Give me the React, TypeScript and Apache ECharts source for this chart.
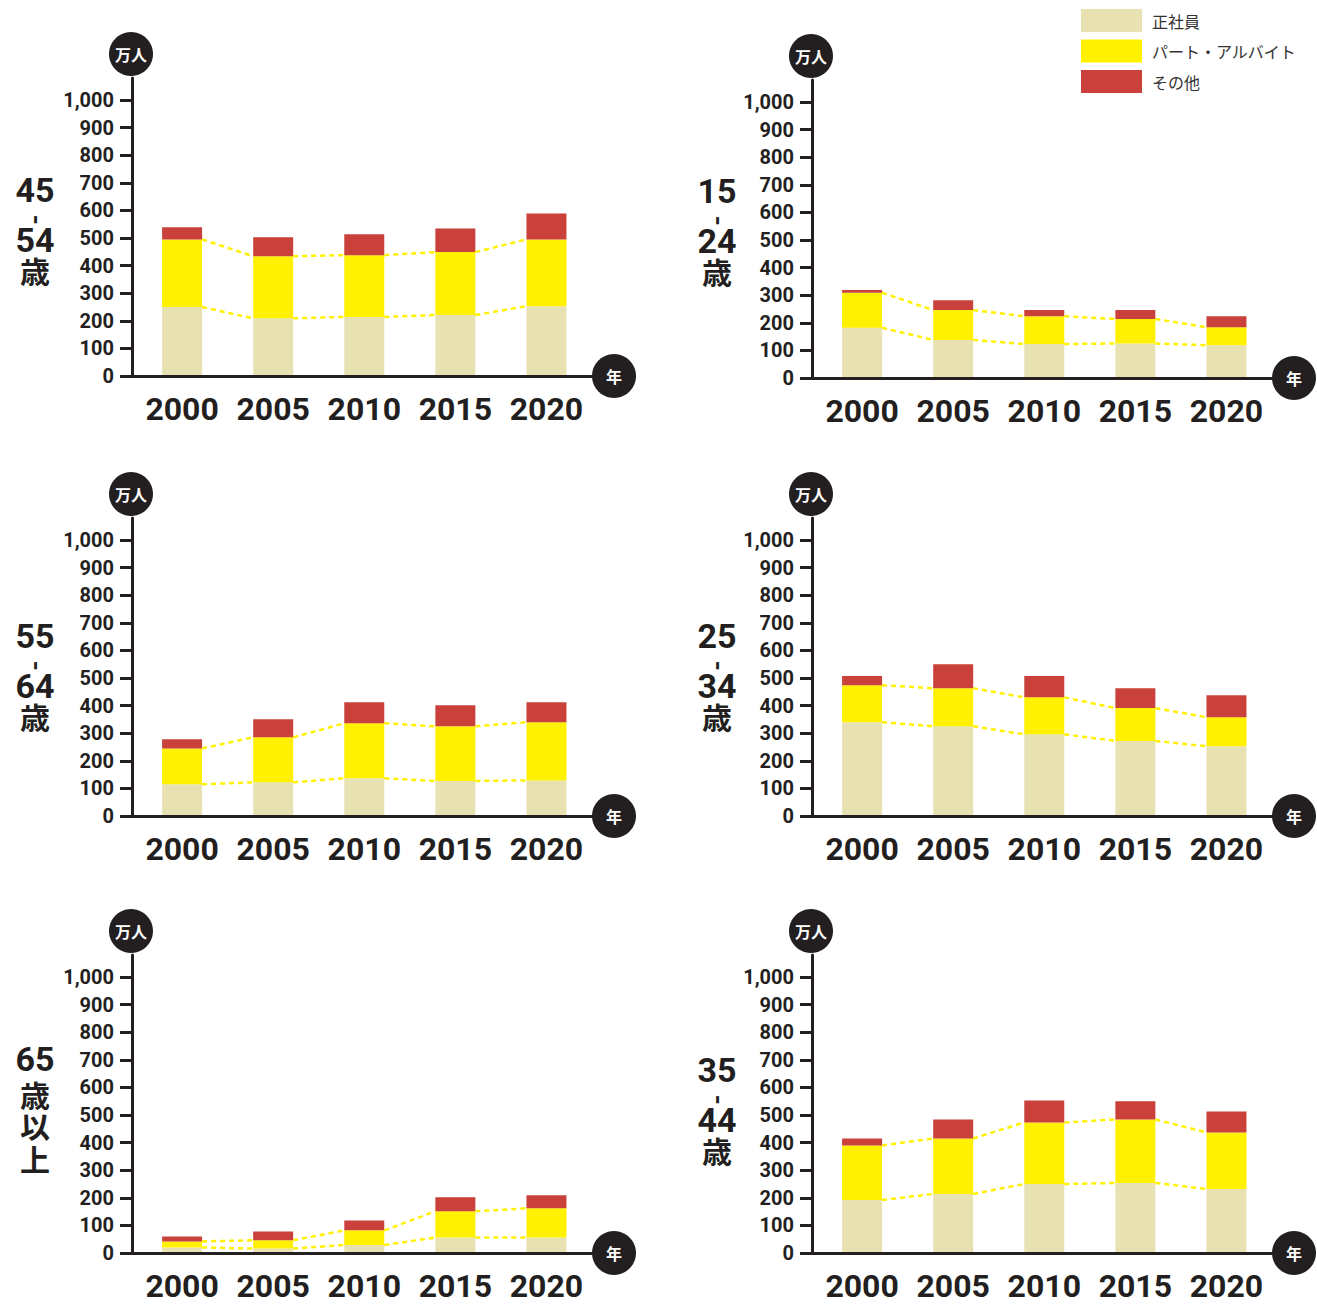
import React, { useEffect, useRef } from "react";
import * as echarts from "echarts";

// Census years and y-axis ticks (万人)
const YEARS = [2000, 2005, 2010, 2015, 2020];
const Y_TICKS = [0, 100, 200, 300, 400, 500, 600, 700, 800, 900, 1000];
const SERIES_NAMES = ["正社員", "パート・アルバイト", "その他"];
const SERIES_COLORS = ["#E8E2B3", "#FFF100", "#C9413A"];

// 15-24歳
const regular15 = [182, 138, 123, 125, 119];
const part15 = [127, 108, 101, 89, 65];
const other15 = [10, 36, 22, 32, 40];
// 25-34歳
const regular25 = [340, 325, 296, 272, 253];
const part25 = [134, 138, 134, 119, 105];
const other25 = [33, 87, 77, 72, 80];
// 35-44歳
const regular35 = [192, 214, 250, 254, 232];
const part35 = [198, 201, 223, 230, 205];
const other35 = [25, 69, 80, 66, 76];
// 45-54歳
const regular45 = [250, 209, 214, 221, 253];
const part45 = [245, 225, 224, 228, 242];
const other45 = [44, 69, 76, 86, 94];
// 55-64歳
const regular55 = [115, 122, 137, 127, 129];
const part55 = [130, 163, 199, 198, 211];
const other55 = [33, 66, 76, 76, 72];
// 65歳以上
const regular65 = [20, 16, 29, 56, 56];
const part65 = [22, 30, 53, 95, 106];
const other65 = [18, 32, 36, 51, 47];

const INK = "#231F20";
const NUM_FONT = "Roboto, 'Liberation Sans', sans-serif";
const CJK_FONT = "'Noto Sans CJK JP', 'Noto Sans', sans-serif";

const GRID_W = 460;
const GRID_H = 298;
const Y_MAX = 1080;
const X_MIN = 1997.25;
const X_MAX = 2022.5;
const BAR_W = 40;

type Panel = {
  lines: string[];
  values: number[][];
  axisX: number;
  baseY: number;
  labelX: number;
  labelY: number;
};

const PANELS: Panel[] = [
  { lines: ["45", "-", "54", "歳"], values: [regular45, part45, other45], axisX: 132, baseY: 376, labelX: 35, labelY: 190 },
  { lines: ["15", "-", "24", "歳"], values: [regular15, part15, other15], axisX: 812, baseY: 378, labelX: 717, labelY: 191 },
  { lines: ["55", "-", "64", "歳"], values: [regular55, part55, other55], axisX: 132, baseY: 816, labelX: 35, labelY: 636 },
  { lines: ["25", "-", "34", "歳"], values: [regular25, part25, other25], axisX: 812, baseY: 816, labelX: 717, labelY: 636 },
  { lines: ["65", "歳", "以", "上"], values: [regular65, part65, other65], axisX: 132, baseY: 1253, labelX: 35, labelY: 1059 },
  { lines: ["35", "-", "44", "歳"], values: [regular35, part35, other35], axisX: 812, baseY: 1253, labelX: 717, labelY: 1070 },
];

// vertical age caption: digits, a turned hyphen, digits, 歳
function ageLabel(p: Panel): any[] {
  const hyphenStyle = p.lines[1] === "-";
  const offsets = hyphenStyle ? [0, 29.5, 50, 80] : [0, 34.5, 66, 99];
  return p.lines.map((t, i) => {
    const isDigit = /^[0-9]+$/.test(t);
    const isDash = t === "-";
    return {
      type: "text",
      x: p.labelX,
      y: p.labelY + offsets[i],
      rotation: isDash ? Math.PI / 2 : 0,
      silent: true,
      style: {
        text: t,
        fill: INK,
        align: "center",
        verticalAlign: "middle",
        fontFamily: isDigit || isDash ? NUM_FONT : CJK_FONT,
        fontWeight: "bold",
        fontSize: isDigit ? 34 : isDash ? 26 : 30,
        lineHeight: isDigit ? 25 : isDash ? 8 : 28,
      },
    };
  });
}

function badge(cx: number, cy: number, text: string): any {
  return {
    type: "group",
    silent: true,
    children: [
      { type: "circle", shape: { cx, cy, r: 22 }, style: { fill: INK } },
      {
        type: "text",
        x: cx,
        y: cy,
        style: {
          text,
          fill: "#ffffff",
          align: "center",
          verticalAlign: "middle",
          fontFamily: CJK_FONT,
          fontWeight: "bold",
          fontSize: 16,
        },
      },
    ],
  };
}

// stacked segment rows: [year, bottom, top]
function segmentRows(values: number[][], k: number): number[][] {
  return YEARS.map((yr, j) => {
    let bottom = 0;
    for (let m = 0; m < k; m++) bottom += values[m][j];
    return [yr, bottom, bottom + values[k][j]];
  });
}

function buildOption() {
  const grid = PANELS.map((p) => ({
    left: p.axisX,
    top: p.baseY - GRID_H,
    width: GRID_W,
    height: GRID_H,
  }));

  const xAxis = PANELS.map((_, i) => ({
    gridIndex: i,
    type: "value",
    min: X_MIN,
    max: X_MAX,
    z: 5,
    axisLine: { lineStyle: { color: INK, width: 3 } },
    axisTick: { show: false },
    splitLine: { show: false },
    axisLabel: {
      customValues: YEARS,
      formatter: (v: number) => String(v),
      margin: 17,
      color: INK,
      fontFamily: NUM_FONT,
      fontWeight: "bold",
      fontSize: 32,
    },
  }));

  const yAxis = PANELS.map((_, i) => ({
    gridIndex: i,
    type: "value",
    min: 0,
    max: Y_MAX,
    z: 5,
    axisLine: { show: true, lineStyle: { color: INK, width: 3 } },
    axisTick: {
      show: true,
      customValues: Y_TICKS,
      length: 12,
      lineStyle: { color: INK, width: 3 },
    },
    splitLine: { show: false },
    axisLabel: {
      customValues: Y_TICKS,
      formatter: (v: number) => v.toLocaleString("en-US"),
      margin: 18,
      color: INK,
      fontFamily: NUM_FONT,
      fontWeight: "bold",
      fontSize: 20,
    },
  }));

  const series: any[] = [];
  PANELS.forEach((p, i) => {
    p.values.forEach((_vals, k) => {
      series.push({
        type: "custom",
        name: SERIES_NAMES[k],
        xAxisIndex: i,
        yAxisIndex: i,
        silent: true,
        z: 2,
        itemStyle: { color: SERIES_COLORS[k] },
        encode: { x: 0, y: [1, 2] },
        data: segmentRows(p.values, k),
        renderItem: (_params: any, api: any) => {
          const lo = api.coord([api.value(0), api.value(1)]);
          const hi = api.coord([api.value(0), api.value(2)]);
          return {
            type: "rect",
            shape: { x: lo[0] - BAR_W / 2, y: hi[1], width: BAR_W, height: lo[1] - hi[1] },
            style: { fill: SERIES_COLORS[k] },
          };
        },
      });
    });

    // dashed yellow guides joining the segment boundaries of neighbouring bars
    const lowerEdge = p.values[0];
    const upperEdge = p.values[0].map((v, j) => v + p.values[1][j]);
    const links: number[][] = [];
    [lowerEdge, upperEdge].forEach((edge) => {
      for (let j = 0; j < YEARS.length - 1; j++) {
        links.push([YEARS[j], edge[j], YEARS[j + 1], edge[j + 1]]);
      }
    });
    series.push({
      type: "custom",
      xAxisIndex: i,
      yAxisIndex: i,
      silent: true,
      z: 3,
      encode: { x: [0, 2], y: [1, 3] },
      data: links,
      renderItem: (_params: any, api: any) => {
        const a = api.coord([api.value(0), api.value(1)]);
        const b = api.coord([api.value(2), api.value(3)]);
        return {
          type: "line",
          shape: { x1: a[0] + BAR_W / 2, y1: a[1], x2: b[0] - BAR_W / 2, y2: b[1] },
          style: { stroke: SERIES_COLORS[1], lineWidth: 2.5, lineDash: [5, 4] },
        };
      },
    });
  });

  const graphic: any[] = [];
  PANELS.forEach((p) => {
    graphic.push(badge(p.axisX - 1, p.baseY - 322, "万人"));
    graphic.push(badge(p.axisX + 482, p.baseY, "年"));
    graphic.push(...ageLabel(p));
  });

  return {
    animation: false,
    backgroundColor: "#ffffff",
    grid,
    xAxis,
    yAxis,
    series,
    graphic,
    legend: {
      orient: "vertical",
      left: 1081,
      top: 9,
      padding: 0,
      itemWidth: 61,
      itemHeight: 23,
      itemGap: 7.5,
      icon: "rect",
      selectedMode: false,
      data: SERIES_NAMES,
      textStyle: {
        color: "#333333",
        fontFamily: CJK_FONT,
        fontSize: 16,
        padding: [0, 0, 0, 5],
      },
    },
  };
}

export default function App() {
  const ref = useRef<HTMLDivElement>(null);

  useEffect(() => {
    document.body.style.margin = "0";
    if (!ref.current) return;
    const chart = echarts.init(ref.current, undefined, { renderer: "svg" });
    chart.setOption(buildOption() as any);
    return () => {
      chart.dispose();
    };
  }, []);

  return <div ref={ref} style={{ width: 1317, height: 1306 }} />;
}
